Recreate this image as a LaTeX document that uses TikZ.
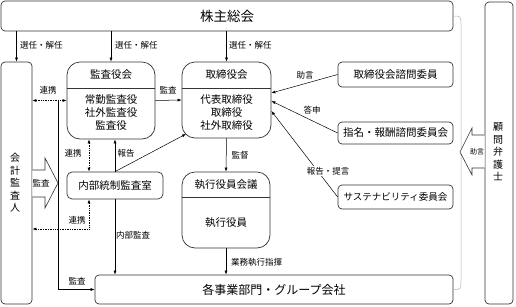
\documentclass[tikz,border=0pt]{standalone}
\usepackage{fontspec}
\setmainfont{Noto Sans CJK JP}
\usetikzlibrary{arrows.meta}
\tikzset{
  box/.style={draw=black!80, line width=0.7pt, rounded corners=4pt, inner sep=0pt},
  bigbox/.style={box, rounded corners=13pt},
  boxtext/.style={font=\fontsize{10.5}{13}\selectfont, align=center, inner sep=0pt},
  vtext/.style={font=\fontsize{10}{12.5}\selectfont, align=center, inner sep=0pt},
  lbl/.style={font=\fontsize{8.5}{10}\selectfont, inner sep=0pt},
  arr/.style={-{Latex[length=4pt,width=3pt]}, line width=0.5pt},
  linkarr/.style={{Latex[length=4pt,width=3pt]}-{Latex[length=4pt,width=3pt]}, densely dotted, line width=0.7pt},
  hollow/.style={draw=black!80, line width=0.6pt, fill=white},
}
\begin{document}
\begin{tikzpicture}[x=1pt,y=-1pt]
\useasboundingbox (0,0) rectangle (516,306);
% outer boxes
\node[box, minimum width=452, minimum height=30, font=\fontsize{13.5}{15}\selectfont] (soukai) at (227,16) {株主総会};
\node[box, minimum width=358, minimum height=29, font=\fontsize{12}{14}\selectfont] (groups) at (274,289.5) {各事業部門・グループ会社};
\node[box, minimum width=31, minimum height=242] (auditor) at (16.5,183) {};
\node[vtext] (auditorT) at (15,183) {会\\計\\監\\査\\人};
\node[box, minimum width=28, minimum height=302] (counsel) at (499,153) {};
\node[vtext] (counselT) at (498,152) {顧\\問\\弁\\護\\士};
% the grey bracket
\draw[black!30, line width=0.5pt] (soukai.east) .. controls (461,16) .. (461,26) -- (461,279) .. controls (461,289.5) .. (groups.east);
% boards
\node[bigbox, minimum width=88, minimum height=77] (kansa) at (111,100.5) {};
\node[boxtext] (kansaT) at (111,75) {監査役会};
\node[boxtext] (kansaM) at (111,113) {常勤監査役\\社外監査役\\監査役};
\draw[black!80, line width=0.6pt] (kansa.west |- 0,88) -- (kansa.east |- 0,88);
\node[bigbox, minimum width=89, minimum height=76] (board) at (226.5,100) {};
\node[boxtext] (boardT) at (226.5,75) {取締役会};
\node[boxtext] (boardM) at (226.5,113) {代表取締役\\取締役\\社外取締役};
\draw[black!80, line width=0.6pt] (board.west |- 0,88) -- (board.east |- 0,88);
\node[bigbox, minimum width=88, minimum height=76] (exec) at (226,210) {};
\node[boxtext] (execT) at (226,185) {執行役員会議};
\node[boxtext] (execM) at (226,223) {執行役員};
\draw[black!80, line width=0.6pt] (exec.west |- 0,197) -- (exec.east |- 0,197);
\node[box, rounded corners=5pt, minimum width=96, minimum height=27, boxtext] (office) at (115,185.5) {内部統制監査室};
% committees
\node[box, minimum width=115, minimum height=25, boxtext] (advisory) at (395.5,74.5) {取締役会諮問委員};
\node[box, minimum width=115, minimum height=22, boxtext] (nomination) at (395.5,133) {指名・報酬諮問委員会};
\node[box, minimum width=115, minimum height=24, boxtext, font=\fontsize{9.5}{12}\selectfont] (sustain) at (395.5,197) {サステナビリティ委員会};
% helper coordinates
\coordinate (kansaTap) at (58,100);
\coordinate (linkX) at (89,0);
\coordinate (linkY) at (0,229);
\coordinate (boardCorner) at (186,134);
% appointment arrows
\draw[arr] (soukai.south -| auditor.north) -- (auditor.north);
\draw[arr] (soukai.south -| kansa.north) -- (kansa.north);
\draw[arr] (soukai.south -| board.north) -- (board.north);
\node[lbl, anchor=west] (appA) at (20,45) {選任・解任};
\node[lbl, anchor=west] (appB) at (115,45) {選任・解任};
\node[lbl, anchor=west] (appC) at (229,45) {選任・解任};
% audit and links
\draw[arr] (kansa.east) -- (board.west);
\node[lbl] (auditK) at (168,90) {監査};
\draw[linkarr] (auditor.east |- kansa.west) -- (kansa.west);
\node[lbl] (linkA) at (48,90) {連携};
\draw[arr] (kansaTap) |- (groups.west);
\node[lbl] (auditG) at (77,281) {監査};
\draw[linkarr] (kansa.south -| linkX) -- (office.north -| linkX);
\node[lbl] (linkB) at (73,153) {連携};
\draw[arr] (office.north) -- (office.north |- kansa.south);
\node[lbl] (report) at (126,153) {報告};
\draw[arr] (office.north) -- (boardCorner);
\draw[linkarr] (office.south -| linkX) |- (auditor.east |- linkY);
\node[lbl] (linkC) at (77,220) {連携};
\draw[arr] (office.south) -- (groups.north -| office.south);
\node[lbl] (innerAudit) at (133,235) {内部監査};
\draw[arr] (board.south) -- (exec.north);
\node[lbl] (supervise) at (240,155) {監督};
\draw[arr] (exec.south) -- (groups.north -| exec.south);
\node[lbl, anchor=west] (command) at (231,262) {業務執行指揮};
% committees to board
\draw[arr] (advisory.west) -- (board.east |- 0,93);
\node[lbl] (advice) at (305,75) {助言};
\draw[arr] (nomination.west) -- (board.east |- 0,101);
\node[lbl] (answer) at (312,110) {答申};
\draw[arr] (sustain.west) -- (board.east |- 0,111);
\node[lbl, fill=white, inner sep=1pt] (proposal) at (328,171) {報告・提言};
% hollow arrows
\draw[hollow] (auditor.east |- 0,170) -- (45,170) -- (45,158) -- (58,183) -- (45,208) -- (45,197) -- (auditor.east |- 0,197);
\node[lbl] (auditA) at (41,183.5) {監査};
\draw[hollow] (counsel.west |- 0,135) -- (472,135) -- (472,128) -- (460,152) -- (472,175) -- (472,168) -- (counsel.west |- 0,168);
\node[lbl, font=\fontsize{7}{8}\selectfont] (adviceC) at (477,152) {助言};
\end{tikzpicture}
\end{document}
